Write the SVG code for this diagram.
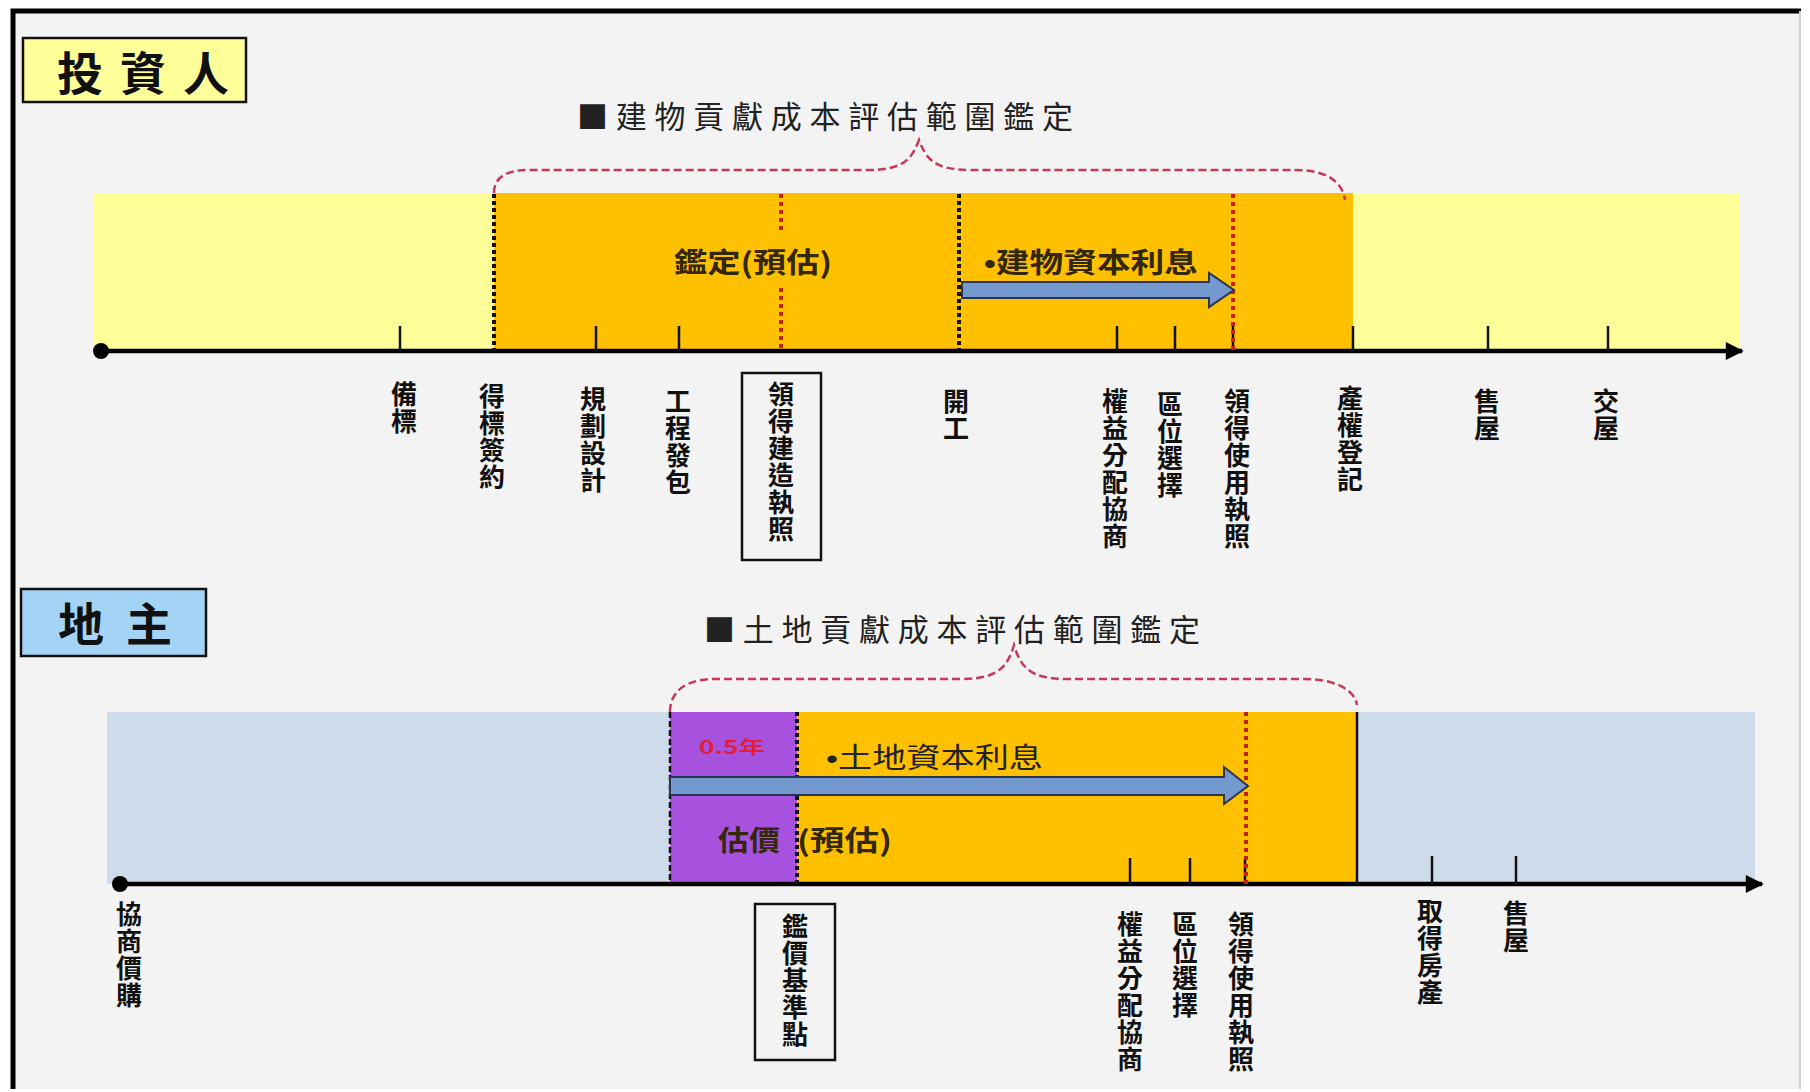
<svg xmlns="http://www.w3.org/2000/svg" width="1810" height="1092" viewBox="0 0 1810 1092">
<defs>
<style>
.cjk{font-family:"Noto Sans CJK TC","Noto Sans CJK SC","Noto Sans",sans-serif}
.lat{font-family:"Liberation Sans","Noto Sans",sans-serif}
.vl{font-size:26px;font-weight:700;fill:#111;writing-mode:vertical-rl;text-orientation:upright;letter-spacing:1px}
.title{font-size:31px;font-weight:400;fill:#222}
.role{font-size:46px;font-weight:700;fill:#111}
.inl{font-size:28px;font-weight:700;fill:#33280C}
.tick{stroke:#111;stroke-width:2.5}
.axis{stroke:#000;stroke-width:4.5;fill:none}
.brace{fill:none;stroke:#C8385A;stroke-width:2.5;stroke-dasharray:8 4}
.dotk{stroke:#111;stroke-width:4;stroke-dasharray:4 3}
.dotr{stroke:#C4201E;stroke-width:4;stroke-dasharray:4 4}
.dashk{stroke:#111;stroke-width:2.5;stroke-dasharray:6 3}
.arrow{fill:#7399CF;stroke:#2A3550;stroke-width:2}
.lbox{fill:none;stroke:#111;stroke-width:2.5}
</style>
<marker id="ah" viewBox="0 0 10 10" refX="9" refY="5" markerWidth="5" markerHeight="4" orient="auto" markerUnits="strokeWidth">
<path d="M0,0 L10,5 L0,10 z" fill="#000"/>
</marker>
</defs>
<rect x="0" y="0" width="1810" height="1092" fill="#FFFFFF"/>
<rect x="13" y="11" width="1788" height="1078" fill="#F3F3F3"/>
<path d="M13,1089 V11 H1801" fill="none" stroke="#000" stroke-width="5"/>
<line x1="1800" y1="11" x2="1800" y2="1089" stroke="#D0D0D0" stroke-width="2"/>

<g id="investor-band">
<rect x="93" y="193" width="1646" height="158" fill="#FFFF99"/>
<rect x="494" y="193" width="859" height="158" fill="#FFC000"/>
</g>

<g id="landowner-band">
<rect x="107" y="712" width="1648" height="172" fill="#CDDBEB"/>
<rect x="670" y="712" width="127" height="172" fill="#A652DF"/>
<rect x="797" y="712" width="560" height="172" fill="#FFC000"/>
</g>

<g id="connectors">
<line class="axis" x1="101" y1="351" x2="1742" y2="351" marker-end="url(#ah)"/>
<circle cx="101" cy="351" r="8" fill="#000"/>
<line class="axis" x1="120" y1="884" x2="1762" y2="884" marker-end="url(#ah)"/>
<circle cx="120" cy="884" r="8" fill="#000"/>

<line class="tick" x1="400" y1="326" x2="400" y2="351"/>
<line class="tick" x1="596" y1="326" x2="596" y2="351"/>
<line class="tick" x1="679" y1="326" x2="679" y2="351"/>
<line class="tick" x1="1117" y1="326" x2="1117" y2="351"/>
<line class="tick" x1="1175" y1="326" x2="1175" y2="351"/>
<line class="tick" x1="1233" y1="326" x2="1233" y2="351"/>
<line class="tick" x1="1353" y1="326" x2="1353" y2="351"/>
<line class="tick" x1="1488" y1="326" x2="1488" y2="351"/>
<line class="tick" x1="1608" y1="326" x2="1608" y2="351"/>

<line class="tick" x1="1130" y1="858" x2="1130" y2="884"/>
<line class="tick" x1="1190" y1="858" x2="1190" y2="884"/>
<line class="tick" x1="1245" y1="858" x2="1245" y2="884"/>
<line class="tick" x1="1432" y1="856" x2="1432" y2="884"/>
<line class="tick" x1="1516" y1="856" x2="1516" y2="884"/>

<line class="dotk" x1="494" y1="194" x2="494" y2="351"/>
<line class="dotr" x1="781" y1="194" x2="781" y2="234"/>
<line class="dotr" x1="781" y1="288" x2="781" y2="351"/>
<line class="dotk" x1="959" y1="194" x2="959" y2="351"/>
<line class="dotr" x1="1233" y1="194" x2="1233" y2="351"/>

<line class="dashk" x1="670" y1="712" x2="670" y2="884"/>
<line class="dotk" x1="797" y1="712" x2="797" y2="884"/>
<line class="dotr" x1="1246" y1="712" x2="1246" y2="884"/>
<line x1="1357" y1="712" x2="1357" y2="884" stroke="#111" stroke-width="2.5"/>

<path class="brace" d="M494,193 C494,178 505,170 530,170 L868,170 C905,170 912,158 919,140 C926,158 933,170 970,170 L1295,170 C1325,170 1342,180 1345,200"/>
<path class="brace" d="M670,712 C670,692 685,679 715,679 L962,679 C1000,679 1008,665 1014,645 C1020,665 1028,679 1066,679 L1305,679 C1335,679 1355,690 1357,705"/>

<path class="arrow" d="M962,282 H1209 V273 L1234,290 L1209,307 V298 H962 Z"/>
<path class="arrow" d="M670,777 H1224 V767 L1248,786 L1224,804 V795 H670 Z"/>
</g>

<g id="node-investor">
<rect x="23" y="38" width="223" height="64" fill="#FFFF99" stroke="#111" stroke-width="2.5"/>
<text class="cjk role" x="57" y="90" textLength="172" lengthAdjust="spacing">投資人</text>
</g>
<g id="node-landowner">
<rect x="21" y="589" width="185" height="67" fill="#A3D4F5" stroke="#111" stroke-width="2.5"/>
<text class="cjk role" x="58" y="641" textLength="114" lengthAdjust="spacing">地主</text>
</g>

<g id="node-title-building">
<text class="cjk title" x="577" y="128" textLength="496" lengthAdjust="spacing">■建物貢獻成本評估範圍鑑定</text>
</g>
<g id="node-title-land">
<text class="cjk title" x="704" y="641" textLength="496" lengthAdjust="spacing">■土地貢獻成本評估範圍鑑定</text>
</g>

<g id="node-appraisal-top">
<text class="cjk inl" x="674" y="273" textLength="158" lengthAdjust="spacingAndGlyphs">鑑定(預估)</text>
</g>
<g id="node-building-interest">
<text class="cjk inl" x="984" y="273" textLength="214" lengthAdjust="spacingAndGlyphs"><tspan class="lat">•</tspan>建物資本利息</text>
</g>
<g id="node-half-year">
<text class="cjk" x="699" y="754" font-size="18" font-weight="700" fill="#E0203A" textLength="66" lengthAdjust="spacingAndGlyphs">0.5年</text>
</g>
<g id="node-land-interest">
<text class="cjk" x="826" y="768" font-size="28" font-weight="400" fill="#222" textLength="217" lengthAdjust="spacingAndGlyphs"><tspan class="lat">•</tspan>土地資本利息</text>
</g>
<g id="node-valuation">
<text class="cjk inl" x="718" y="851" textLength="62" lengthAdjust="spacingAndGlyphs">估價</text>
<text class="cjk inl" x="797" y="851" textLength="95" lengthAdjust="spacingAndGlyphs">(預估)</text>
</g>

<g id="node-t-bid"><text class="cjk vl" x="404" y="381">備標</text></g>
<g id="node-t-award"><text class="cjk vl" x="492" y="383">得標簽約</text></g>
<g id="node-t-design"><text class="cjk vl" x="593" y="386">規劃設計</text></g>
<g id="node-t-contract"><text class="cjk vl" x="678" y="388">工程發包</text></g>
<g id="node-t-permit">
<rect class="lbox" x="742" y="373" width="79" height="187"/>
<text class="cjk vl" x="781" y="381">領得建造執照</text>
</g>
<g id="node-t-start"><text class="cjk vl" x="956" y="388">開工</text></g>
<g id="node-t-rights"><text class="cjk vl" x="1115" y="388">權益分配協商</text></g>
<g id="node-t-location"><text class="cjk vl" x="1170" y="391">區位選擇</text></g>
<g id="node-t-usepermit"><text class="cjk vl" x="1237" y="388">領得使用執照</text></g>
<g id="node-t-register"><text class="cjk vl" x="1350" y="385">產權登記</text></g>
<g id="node-t-sale"><text class="cjk vl" x="1487" y="388">售屋</text></g>
<g id="node-t-handover"><text class="cjk vl" x="1606" y="388">交屋</text></g>

<g id="node-b-purchase"><text class="cjk vl" x="129" y="901">協商價購</text></g>
<g id="node-b-basepoint">
<rect class="lbox" x="755" y="904" width="80" height="156"/>
<text class="cjk vl" x="795" y="913">鑑價基準點</text>
</g>
<g id="node-b-rights"><text class="cjk vl" x="1130" y="911">權益分配協商</text></g>
<g id="node-b-location"><text class="cjk vl" x="1185" y="911">區位選擇</text></g>
<g id="node-b-usepermit"><text class="cjk vl" x="1241" y="911">領得使用執照</text></g>
<g id="node-b-acquire"><text class="cjk vl" x="1430" y="898">取得房產</text></g>
<g id="node-b-sale"><text class="cjk vl" x="1516" y="900">售屋</text></g>
</svg>
